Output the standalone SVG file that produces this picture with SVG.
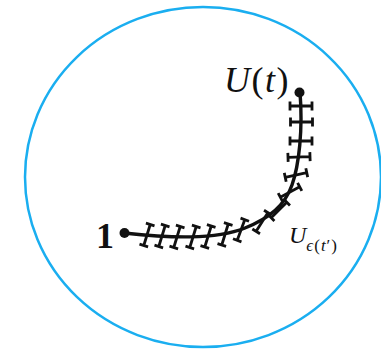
<svg xmlns="http://www.w3.org/2000/svg" xmlns:xlink="http://www.w3.org/1999/xlink" width="381" height="350" viewBox="0 0 381 350">
<style>
.math{font-family:"Liberation Serif","DejaVu Serif",serif;fill:#111}
.it{font-style:italic}
.curve{fill:none;stroke:#111;stroke-width:3.4;stroke-linecap:round}
.tick{fill:none;stroke:#111;stroke-width:2.8;stroke-linecap:butt}
</style>
<defs>
<path id="tk" class="tick" d="M0,-11V11M-4.5,-11H4.5M-4.5,11H4.5"/>
</defs>
<rect width="381" height="350" fill="#fff"/>
<g id="region">
<ellipse cx="203" cy="177" rx="178" ry="170" fill="none" stroke="#1aaef0" stroke-width="2.5"/>
</g>
<g id="connectors">
<path class="curve" d="M124,233 C170,238 215,240 245,228 C270,218 285,205 292,185 C299,165 303,130 300,92"/>
<g id="ticks">
<use xlink:href="#tk" transform="translate(147,235) rotate(17)"/>
<use xlink:href="#tk" transform="translate(162,236) rotate(17)"/>
<use xlink:href="#tk" transform="translate(177,237) rotate(17)"/>
<use xlink:href="#tk" transform="translate(193,237) rotate(17)"/>
<use xlink:href="#tk" transform="translate(208,236.5) rotate(17)"/>
<use xlink:href="#tk" transform="translate(225,234.5) rotate(17)"/>
<use xlink:href="#tk" transform="translate(241,230) rotate(20)"/>
<use xlink:href="#tk" transform="translate(262,222) rotate(32)"/>
<use xlink:href="#tk" transform="translate(279,210) rotate(45)"/>
<use xlink:href="#tk" transform="translate(290,192) rotate(62)"/>
<use xlink:href="#tk" transform="translate(296,175) rotate(78)"/>
<use xlink:href="#tk" transform="translate(299,157) rotate(88)"/>
<use xlink:href="#tk" transform="translate(301,141) rotate(90)"/>
<use xlink:href="#tk" transform="translate(301.5,122) rotate(90)"/>
<use xlink:href="#tk" transform="translate(301,106) rotate(90)"/>
</g>
</g>
<g id="start">
<circle cx="124.5" cy="233" r="5" fill="#111"/>
<text class="math" x="96" y="248" font-size="36" font-weight="bold">1</text>
</g>
<g id="end">
<circle cx="299.5" cy="92.5" r="5" fill="#111"/>
<text class="math" x="224" y="92" font-size="36" letter-spacing="1.5"><tspan class="it">U</tspan>(<tspan class="it">t</tspan>)</text>
</g>
<g id="label">
<text class="math" x="289" y="243" font-size="24" fill="#333"><tspan class="it">U</tspan><tspan font-size="17" dy="8" letter-spacing="1"><tspan class="it">ϵ</tspan>(<tspan class="it">t</tspan>′)</tspan></text>
</g>
</svg>
